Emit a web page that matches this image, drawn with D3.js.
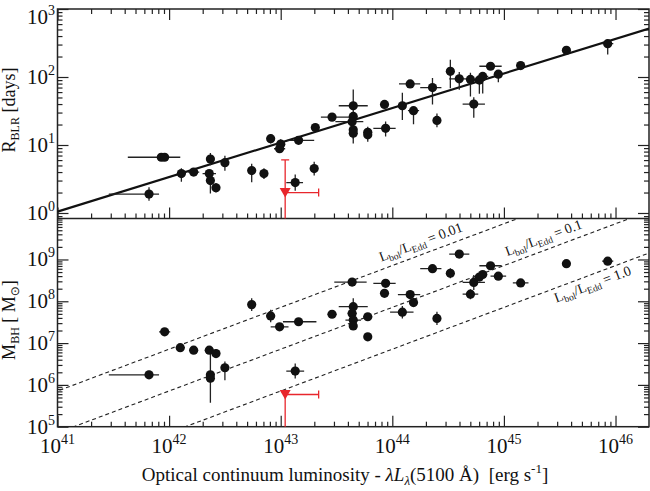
<!DOCTYPE html>
<html><head><meta charset="utf-8">
<script src="https://cdn.jsdelivr.net/npm/d3@7"></script>
<style>
body{margin:0;background:#fff}
svg{display:block}
text{font-family:"Liberation Serif","Times New Roman",serif;fill:#111}
</style>
</head><body>
<svg id="c" width="650" height="491"></svg>
<script>
// ---------------- data ----------------
const xTickExps = [41, 42, 43, 44, 45, 46];
const rTickExps = [0, 1, 2, 3];
const mTickExps = [5, 6, 7, 8, 9];

// [log10 lambda L5100, R_BLR (days), xErr- (dex), xErr+ (dex), yErr- (dex), yErr+ (dex)]
const rblrPoints = [
  [41.82, 1.9, 0.36, 0.09, 0.10, 0.10],
  [41.93, 6.6, 0.30, 0.17, 0.03, 0.03],
  [41.96, 6.6, 0.04, 0.04, 0.03, 0.03],
  [42.11, 3.8, 0.04, 0.04, 0.12, 0.08],
  [42.22, 4.0, 0.05, 0.05, 0.04, 0.04],
  [42.37, 6.2, 0.03, 0.03, 0.09, 0.09],
  [42.36, 3.8, 0.06, 0.06, 0.05, 0.05],
  [42.37, 3.0, 0.03, 0.03, 0.19, 0.05],
  [42.42, 2.35, 0.03, 0.03, 0.07, 0.07],
  [42.50, 5.5, 0.03, 0.03, 0.12, 0.10],
  [42.74, 4.2, 0.03, 0.03, 0.17, 0.10],
  [42.85, 3.8, 0.03, 0.03, 0.08, 0.08],
  [42.91, 12.4, 0.03, 0.03, 0.07, 0.07],
  [43.00, 10.3, 0.04, 0.04, 0.06, 0.07],
  [42.99, 8.8, 0.05, 0.05, 0.05, 0.05],
  [43.16, 11.7, 0.10, 0.14, 0.03, 0.03],
  [43.13, 2.8, 0.08, 0.07, 0.12, 0.12],
  [43.30, 4.5, 0.03, 0.03, 0.10, 0.10],
  [43.31, 18.1, 0.03, 0.03, 0.04, 0.04],
  [43.46, 25.7, 0.10, 0.20, 0.03, 0.03],
  [43.65, 37.8, 0.13, 0.13, 0.25, 0.24],
  [43.65, 26.3, 0.03, 0.03, 0.05, 0.05],
  [43.64, 22.0, 0.15, 0.10, 0.05, 0.05],
  [43.65, 16.7, 0.03, 0.03, 0.20, 0.05],
  [43.65, 14.9, 0.03, 0.03, 0.08, 0.08],
  [43.78, 15.4, 0.03, 0.03, 0.08, 0.08],
  [43.78, 14.1, 0.03, 0.03, 0.10, 0.05],
  [43.93, 39.5, 0.03, 0.03, 0.04, 0.04],
  [43.94, 17.6, 0.11, 0.09, 0.12, 0.10],
  [44.09, 37.8, 0.03, 0.03, 0.21, 0.19],
  [44.16, 79, 0.10, 0.09, 0.04, 0.04],
  [44.19, 32, 0.05, 0.05, 0.20, 0.05],
  [44.36, 70, 0.11, 0.08, 0.25, 0.14],
  [44.40, 23, 0.03, 0.03, 0.10, 0.10],
  [44.52, 121, 0.03, 0.03, 0.25, 0.17],
  [44.60, 94, 0.09, 0.09, 0.16, 0.10],
  [44.70, 92, 0.03, 0.03, 0.25, 0.10],
  [44.73, 40, 0.10, 0.10, 0.20, 0.10],
  [44.78, 90, 0.05, 0.05, 0.20, 0.05],
  [44.81, 102, 0.05, 0.05, 0.25, 0.05],
  [44.88, 144, 0.10, 0.10, 0.04, 0.04],
  [44.95, 110, 0.04, 0.04, 0.12, 0.05],
  [45.15, 147, 0.03, 0.03, 0.04, 0.04],
  [45.56, 247, 0.03, 0.03, 0.04, 0.04],
  [45.93, 309, 0.05, 0.05, 0.16, 0.06]
];

// [log10 lambda L5100, log10 M_BH (Msun), xErr- (dex), xErr+ (dex), yErr- (dex), yErr+ (dex)]
const mbhPoints = [
  [41.82, 6.24, 0.36, 0.09, 0.10, 0.10],
  [41.96, 7.27, 0.05, 0.05, 0.05, 0.05],
  [42.10, 6.89, 0.04, 0.04, 0.06, 0.06],
  [42.22, 6.83, 0.04, 0.04, 0.04, 0.04],
  [42.36, 6.83, 0.04, 0.04, 0.04, 0.04],
  [42.42, 6.75, 0.03, 0.03, 0.10, 0.10],
  [42.37, 6.24, 0.03, 0.03, 0.67, 0.53],
  [42.37, 6.16, 0.03, 0.03, 0.10, 0.10],
  [42.50, 6.41, 0.03, 0.03, 0.30, 0.15],
  [42.74, 7.92, 0.03, 0.03, 0.15, 0.15],
  [42.91, 7.65, 0.04, 0.04, 0.15, 0.15],
  [42.99, 7.39, 0.08, 0.08, 0.05, 0.05],
  [43.16, 7.51, 0.14, 0.16, 0.05, 0.05],
  [43.13, 6.33, 0.08, 0.08, 0.18, 0.18],
  [43.46, 7.69, 0.04, 0.04, 0.05, 0.05],
  [43.64, 8.46, 0.16, 0.13, 0.05, 0.05],
  [43.65, 7.87, 0.13, 0.13, 0.20, 0.20],
  [43.64, 7.71, 0.04, 0.04, 0.05, 0.05],
  [43.65, 7.55, 0.07, 0.07, 0.05, 0.05],
  [43.65, 7.41, 0.03, 0.03, 0.05, 0.05],
  [43.78, 7.63, 0.04, 0.04, 0.05, 0.05],
  [43.78, 7.15, 0.03, 0.03, 0.05, 0.05],
  [43.94, 8.43, 0.11, 0.09, 0.05, 0.05],
  [43.93, 8.19, 0.03, 0.03, 0.05, 0.05],
  [44.09, 7.74, 0.11, 0.10, 0.15, 0.15],
  [44.16, 8.16, 0.11, 0.09, 0.05, 0.05],
  [44.19, 7.97, 0.04, 0.04, 0.10, 0.10],
  [44.36, 8.78, 0.11, 0.08, 0.05, 0.05],
  [44.40, 7.59, 0.03, 0.03, 0.16, 0.16],
  [44.52, 8.67, 0.03, 0.03, 0.12, 0.12],
  [44.60, 9.13, 0.09, 0.09, 0.05, 0.05],
  [44.70, 8.17, 0.07, 0.07, 0.12, 0.12],
  [44.73, 8.45, 0.10, 0.10, 0.18, 0.18],
  [44.78, 8.58, 0.04, 0.04, 0.05, 0.05],
  [44.81, 8.64, 0.04, 0.04, 0.05, 0.05],
  [44.88, 8.85, 0.10, 0.10, 0.05, 0.05],
  [44.95, 8.60, 0.07, 0.07, 0.05, 0.05],
  [45.15, 8.44, 0.07, 0.07, 0.05, 0.05],
  [45.56, 8.90, 0.03, 0.03, 0.03, 0.03],
  [45.93, 8.96, 0.05, 0.05, 0.05, 0.05]
];

// red upper-limit object: [log L, value, xErr+ (dex), yErr+ (dex)]
const limitR = [43.04, 2.0, 0.30, 0.48];
const limitM = [43.04, 5.77, 0.30, 0.0];

// R-L relation: log R = fitA + fitB * (log L - 41)
const fitA = 0.02, fitB = 0.508;
const fitRange = [41, 46.3];

// Eddington-ratio lines: M = kBol * L / (LEdd1 * ratio)
const eddRatios = [0.01, 0.1, 1.0];
const eddLabels = ["0.01", "0.1", "1.0"];
const kBol = 9, LEdd1 = 1.26e38;

// ---------------- layout ----------------
const L = 57.5, R = 649, T = 9, MID = 218.5, B = 426.7;
const svg = d3.select("#c");
const x = d3.scaleLog().domain([1e41, Math.pow(10, 46.3)]).range([L, R]);
const yR = d3.scaleLog().domain([0.83, 1000]).range([MID, T]);
const yM = d3.scaleLog().domain([1e5, Math.pow(10, 9.98)]).range([B, MID]);
const lx = v => x(Math.pow(10, v));

const defs = svg.append("defs");
defs.append("clipPath").attr("id", "clipTop").append("rect")
  .attr("x", L).attr("y", T).attr("width", R - L).attr("height", MID - T);
defs.append("clipPath").attr("id", "clipBot").append("rect")
  .attr("x", L).attr("y", MID).attr("width", R - L).attr("height", B - MID);

function minorVals(e0, e1) {
  const out = [];
  for (let e = e0; e <= e1; e++) for (let k = 2; k <= 9; k++) out.push(k * Math.pow(10, e));
  return out;
}
const xMajor = xTickExps.map(e => Math.pow(10, e));
const xMinor = minorVals(40, 46).filter(v => v > 1e41 && v < Math.pow(10, 46.3));
const rMajor = rTickExps.map(e => Math.pow(10, e));
const rMinor = minorVals(-1, 2).filter(v => v >= 0.83 && v < 1000);
const mMajor = mTickExps.map(e => Math.pow(10, e));
const mMinor = minorVals(5, 9).filter(v => v < Math.pow(10, 9.98));

function drawAxis(axisGen, scale, vals, size, tr) {
  const g = svg.append("g").attr("transform", tr)
    .call(axisGen(scale).tickValues(vals).tickSizeInner(-size).tickSizeOuter(0).tickFormat(""));
  g.select(".domain").remove();
  g.selectAll("line").attr("stroke", "#222").attr("stroke-width", 1.2);
}
// x ticks
[[d3.axisBottom, B], [d3.axisBottom, MID], [d3.axisTop, T]].forEach(([gen, yy]) => {
  drawAxis(gen, x, xMajor, 11, `translate(0,${yy})`);
  drawAxis(gen, x, xMinor, 5, `translate(0,${yy})`);
});
// y ticks
[[yR, rMajor, rMinor], [yM, mMajor, mMinor]].forEach(([s, maj, min]) => {
  drawAxis(d3.axisLeft, s, maj, 11, `translate(${L},0)`);
  drawAxis(d3.axisLeft, s, min, 5, `translate(${L},0)`);
  drawAxis(d3.axisRight, s, maj, 11, `translate(${R},0)`);
  drawAxis(d3.axisRight, s, min, 5, `translate(${R},0)`);
});

// frames
svg.append("rect").attr("x", L).attr("y", T).attr("width", R - L).attr("height", B - T)
  .attr("fill", "none").attr("stroke", "#222").attr("stroke-width", 1.5);
svg.append("line").attr("x1", L).attr("x2", R).attr("y1", MID).attr("y2", MID)
  .attr("stroke", "#222").attr("stroke-width", 1.5);

// tick labels
function powLabel(xx, yy, exp, anchor) {
  const t = svg.append("text").attr("x", xx).attr("y", yy).attr("text-anchor", anchor)
    .attr("font-size", 21);
  t.append("tspan").text("10");
  t.append("tspan").attr("dy", -9).attr("font-size", 14).text(exp);
}
xTickExps.forEach(e => powLabel(x(Math.pow(10, e)), 453, e, "middle"));
rTickExps.forEach(e => powLabel(55, Math.max(yR(Math.pow(10, e)) + 7, 24), e, "end"));
mTickExps.forEach(e => powLabel(55, yM(Math.pow(10, e)) + 7, e, "end"));

// axis titles
const xt = svg.append("text").attr("x", 345).attr("y", 481).attr("text-anchor", "middle")
  .attr("font-size", 19).attr("xml:space", "preserve");
xt.append("tspan").text("Optical continuum luminosity - ");
xt.append("tspan").attr("font-style", "italic").text("λL");
xt.append("tspan").attr("font-style", "italic").attr("font-size", 13).attr("dy", 4).text("λ");
xt.append("tspan").attr("dy", -4).text("(5100 Å)\u00a0\u00a0[erg s");
xt.append("tspan").attr("font-size", 13).attr("dy", -8).text("-1");
xt.append("tspan").attr("dy", 8).text("]");

const yt1 = svg.append("text").attr("transform", "translate(15,110) rotate(-90)")
  .attr("text-anchor", "middle").attr("font-size", 18);
yt1.append("tspan").text("R");
yt1.append("tspan").attr("font-size", 12).attr("dy", 4).text("BLR");
yt1.append("tspan").attr("dy", -4).text(" [days]");

const yt2 = svg.append("text").attr("transform", "translate(15,320) rotate(-90)")
  .attr("text-anchor", "middle").attr("font-size", 18);
yt2.append("tspan").text("M");
yt2.append("tspan").attr("font-size", 12).attr("dy", 4).text("BH");
yt2.append("tspan").attr("dy", -4).text(" [ M");
yt2.append("tspan").attr("font-size", 12).attr("dy", 4).attr("font-family", "DejaVu Sans").text("⊙");
yt2.append("tspan").attr("dy", -4).text("]");

// ---------------- top panel ----------------
const gTop = svg.append("g").attr("clip-path", "url(#clipTop)");
const fitLine = d3.line().x(d => lx(d)).y(d => yR(Math.pow(10, fitA + fitB * (d - 41))));
gTop.append("path").attr("d", fitLine(fitRange)).attr("fill", "none")
  .attr("stroke", "#111").attr("stroke-width", 2.2);

function errBars(g, pts, yOf) {
  pts.forEach(p => {
    const cx = lx(p[0]), cy = yOf(p[1]);
    g.append("line").attr("x1", lx(p[0] - p[2])).attr("x2", lx(p[0] + p[3]))
      .attr("y1", cy).attr("y2", cy).attr("stroke", "#222").attr("stroke-width", 1.3);
    g.append("line").attr("x1", cx).attr("x2", cx)
      .attr("y1", yOf(p[1], -p[4])).attr("y2", yOf(p[1], p[5]))
      .attr("stroke", "#222").attr("stroke-width", 1.3);
  });
  g.selectAll(null).data(pts).enter().append("circle")
    .attr("cx", d => lx(d[0])).attr("cy", d => yOf(d[1]))
    .attr("r", 4.6).attr("fill", "#111");
}
errBars(gTop, rblrPoints, (v, dd = 0) => yR(v * Math.pow(10, dd)));

const red = "#e8262c";
function limitMarker(g, cx, cy, xEnd, yTop, yBot) {
  g.append("line").attr("x1", cx).attr("x2", cx).attr("y1", yTop).attr("y2", yBot)
    .attr("stroke", red).attr("stroke-width", 1.3);
  if (yTop < cy) g.append("line").attr("x1", cx - 4).attr("x2", cx + 4).attr("y1", yTop).attr("y2", yTop)
    .attr("stroke", red).attr("stroke-width", 1.3);
  g.append("line").attr("x1", cx).attr("x2", xEnd).attr("y1", cy).attr("y2", cy)
    .attr("stroke", red).attr("stroke-width", 1.3);
  g.append("line").attr("x1", xEnd).attr("x2", xEnd).attr("y1", cy - 4).attr("y2", cy + 4)
    .attr("stroke", red).attr("stroke-width", 1.3);
  g.append("path").attr("transform", `translate(${cx},${cy})`)
    .attr("d", "M-5.5,-4.5L5.5,-4.5L0,5Z").attr("fill", red);
}
limitMarker(gTop, lx(limitR[0]), yR(limitR[1]), lx(limitR[0] + limitR[2]),
  yR(limitR[1] * Math.pow(10, limitR[3])), MID + 2);

// ---------------- bottom panel ----------------
const gBot = svg.append("g").attr("clip-path", "url(#clipBot)");
const eddLine = r => d3.line().x(d => lx(d))
  .y(d => yM(kBol * Math.pow(10, d) / (LEdd1 * r)));
eddRatios.forEach(r => {
  gBot.append("path").attr("d", eddLine(r)([40.9, 46.4])).attr("fill", "none")
    .attr("stroke", "#222").attr("stroke-width", 1.1).attr("stroke-dasharray", "4,3");
});
// labels along lines
const ang = Math.atan2(yM(1e6) - yM(1e7), x(1e42) - x(1e41)) * 180 / Math.PI;
const labelPos = [[43.90, -8], [45.03, -8], [45.47, 15]];
eddRatios.forEach((r, i) => {
  const lv = labelPos[i][0];
  const px = lx(lv), py = yM(kBol * Math.pow(10, lv) / (LEdd1 * r)) + labelPos[i][1];
  const t = svg.append("text").attr("transform", `translate(${px},${py}) rotate(${-ang})`)
    .attr("font-size", 14);
  t.append("tspan").text("L");
  t.append("tspan").attr("font-size", 9.5).attr("dy", 3).text("bol");
  t.append("tspan").attr("dy", -3).text("/L");
  t.append("tspan").attr("font-size", 9.5).attr("dy", 3).text("Edd");
  t.append("tspan").attr("dy", -3).text(" = " + eddLabels[i]);
});

errBars(gBot, mbhPoints, (v, dd = 0) => yM(Math.pow(10, v + dd)));
limitMarker(gBot, lx(limitM[0]), yM(Math.pow(10, limitM[1])), lx(limitM[0] + limitM[2]),
  yM(Math.pow(10, limitM[1])), B + 2);
</script>
</body></html>
